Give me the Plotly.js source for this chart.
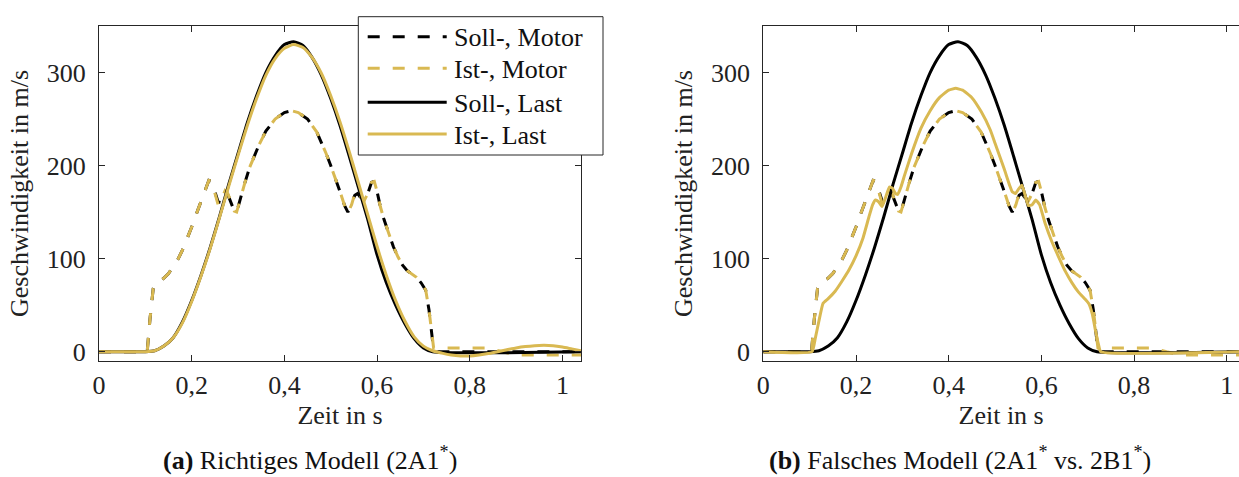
<!DOCTYPE html>
<html>
<head>
<meta charset="utf-8">
<script src="https://cdn.plot.ly/plotly-3.0.1.min.js"></script>
<style>html,body{margin:0;padding:0;background:#fff;}#chart{width:1239px;height:477px;}</style>
</head>
<body>
<div id="chart"></div>
<script>
// ---- data ----
var seriesNames = ['Soll-, Motor', 'Ist-, Motor', 'Soll-, Last', 'Ist-, Last'];
var panelCaptions = ['<b>(a)</b> Richtiges Modell (2A1<sup>*</sup>)', '<b>(b)</b> Falsches Modell (2A1<sup>*</sup> vs. 2B1<sup>*</sup>)'];
var xTickVals = [0, 0.2, 0.4, 0.6, 0.8, 1];
var xTickText = ['0', '0,2', '0,4', '0,6', '0,8', '1'];
var yTickVals = [0, 100, 200, 300];
var xTitle = 'Zeit in s';
var yTitle = 'Geschwindigkeit in m/s';

// Motor speed (both panels)
var tMotor = [0, 0.104, 0.110, 0.117, 0.125, 0.14, 0.15, 0.16, 0.17, 0.18, 0.19, 0.20, 0.21, 0.22, 0.23, 0.237, 0.243, 0.250, 0.257, 0.265, 0.272, 0.278, 0.285, 0.292, 0.297, 0.305, 0.315, 0.325, 0.335, 0.345, 0.36, 0.38, 0.40, 0.415, 0.43, 0.45, 0.47, 0.48, 0.49, 0.50, 0.51, 0.52, 0.53, 0.537, 0.545, 0.552, 0.558, 0.565, 0.572, 0.58, 0.588, 0.594, 0.60, 0.607, 0.615, 0.625, 0.635, 0.645, 0.655, 0.665, 0.675, 0.685, 0.695, 0.705, 0.712, 0.718, 0.722, 0.73, 0.84, 0.87, 0.90, 1.04];
var vIstMotor = [0, 0, 35, 68, 74, 79, 84, 91, 99, 109, 121, 134, 148, 162, 176, 184, 183, 170, 158, 165, 173, 170, 160, 151, 150, 165, 182, 198, 211, 222, 237, 250, 257, 259, 257, 250, 236, 225, 213, 200, 187, 172, 157, 149, 158, 170, 173, 166, 162, 170, 182, 183, 172, 156, 142, 127, 113, 102, 93, 87, 83, 80, 74, 66, 45, 20, 4, 4, 4, 0, -3.5, -3.5];
var vSollMotor = [0, 0, 35, 68, 74, 79, 84, 91, 99, 109, 121, 134, 148, 162, 176, 184, 183, 172, 161, 160, 168, 169, 160, 151, 150, 165, 182, 198, 211, 222, 237, 250, 257, 259, 257, 250, 236, 225, 213, 200, 187, 172, 157, 150, 160, 168, 170, 165, 164, 170, 182, 183, 172, 156, 142, 127, 113, 102, 93, 87, 83, 80, 74, 66, 45, 20, 2, 0, 0, 0, 0, 0];

// Load speed, reference (both panels)
var tSollLast = [0, 0.10, 0.12, 0.14, 0.16, 0.18, 0.20, 0.22, 0.24, 0.26, 0.28, 0.30, 0.32, 0.34, 0.36, 0.38, 0.40, 0.42, 0.44, 0.46, 0.48, 0.50, 0.52, 0.54, 0.56, 0.58, 0.60, 0.62, 0.64, 0.66, 0.68, 0.70, 0.72, 1.04];
var vSollLast = [0, 0, 1, 6, 15, 32, 55, 82, 112, 145, 180, 213, 246, 275, 300, 318, 330, 333, 329, 316, 297, 272, 243, 210, 176, 142, 104, 74, 50, 30, 14, 4, 0, 0];

// Load speed, measured - panel (a)
var tIstLastA = [0, 0.10, 0.12, 0.14, 0.16, 0.18, 0.20, 0.22, 0.24, 0.26, 0.28, 0.30, 0.32, 0.34, 0.36, 0.38, 0.40, 0.42, 0.44, 0.46, 0.48, 0.50, 0.52, 0.54, 0.56, 0.58, 0.60, 0.62, 0.64, 0.66, 0.68, 0.70, 0.72, 0.74, 0.76, 0.78, 0.80, 0.82, 0.84, 0.86, 0.88, 0.90, 0.92, 0.94, 0.96, 0.98, 1.00, 1.02, 1.04];
var vIstLastA = [0, 0, 1, 6, 15, 31, 54, 81, 111, 144, 178, 211, 243, 272, 297, 315, 326, 330, 327, 316, 299, 275, 247, 215, 181, 147, 113, 82, 55, 33, 16, 6, 1, -1.5, -3.5, -4.5, -4.5, -3.5, -2, 0, 2, 4, 5.5, 6.5, 7, 6.5, 5, 3, 1];

// Load speed, measured - panel (b)
var tIstLastB = [0, 0.105, 0.112, 0.120, 0.129, 0.14, 0.155, 0.17, 0.185, 0.20, 0.215, 0.228, 0.236, 0.242, 0.249, 0.256, 0.264, 0.272, 0.278, 0.285, 0.290, 0.297, 0.305, 0.32, 0.34, 0.36, 0.38, 0.40, 0.415, 0.43, 0.45, 0.47, 0.49, 0.50, 0.51, 0.52, 0.532, 0.537, 0.544, 0.551, 0.558, 0.565, 0.572, 0.580, 0.588, 0.596, 0.608, 0.622, 0.637, 0.652, 0.666, 0.68, 0.695, 0.703, 0.710, 0.717, 0.723, 0.728, 1.04];
var vIstLastB = [0, 0, 14, 33, 52, 57, 65, 76, 88, 103, 122, 145, 158, 163, 161, 156, 166, 177, 176, 170, 169, 177, 190, 213, 240, 259, 273, 281, 283, 281, 273, 258, 238, 224, 210, 196, 178, 172, 170, 175, 179, 168, 157, 158, 163, 158, 138, 119, 102, 86, 74, 64, 56, 51, 40, 22, 8, 0, 0];

// ---- styles ----
var GOLD = '#D9B952';
var BLACK = '#000000';
var FONT = 'Liberation Serif';
var DASH = '12px,13px';
var AXC = '#262626';

function tr(x, y, name, color, dash, xa, ya, shape, sm) {
  return {
    x: x, y: y, name: name, type: 'scatter', mode: 'lines',
    line: {color: color, width: 3, dash: dash, shape: shape, smoothing: sm},
    xaxis: xa, yaxis: ya, showlegend: false, hoverinfo: 'skip'
  };
}

var data = [
  tr(tMotor, vSollMotor, seriesNames[0], BLACK, DASH, 'x', 'y', 'linear', 0),
  tr(tMotor, vIstMotor, seriesNames[1], GOLD, DASH, 'x', 'y', 'linear', 0),
  tr(tSollLast, vSollLast, seriesNames[2], BLACK, 'solid', 'x', 'y', 'spline', 0.6),
  tr(tIstLastA, vIstLastA, seriesNames[3], GOLD, 'solid', 'x', 'y', 'spline', 0.6),
  tr(tMotor, vSollMotor, seriesNames[0], BLACK, DASH, 'x2', 'y2', 'linear', 0),
  tr(tMotor, vIstMotor, seriesNames[1], GOLD, DASH, 'x2', 'y2', 'linear', 0),
  tr(tSollLast, vSollLast, seriesNames[2], BLACK, 'solid', 'x2', 'y2', 'spline', 0.6),
  tr(tIstLastB, vIstLastB, seriesNames[3], GOLD, 'solid', 'x2', 'y2', 'spline', 0.4)
];

var axFont = {family: FONT, size: 26, color: '#222'};
var titleFont = {family: FONT, size: 26, color: '#222'};

function xax(domain, range, anchor) {
  return {
    domain: domain, range: range, anchor: anchor,
    tickmode: 'array', tickvals: xTickVals, ticktext: xTickText,
    ticks: 'inside', ticklen: 6, tickcolor: AXC, tickwidth: 1,
    showline: true, linecolor: AXC, linewidth: 1, mirror: 'ticks',
    showgrid: false, zeroline: false, tickfont: axFont, ticklabelstandoff: 1,
    title: {text: xTitle, font: titleFont, standoff: 6}
  };
}
function yax(anchor, mirror) {
  return {
    domain: [0, 1], range: [-10, 350], anchor: anchor,
    tickmode: 'array', tickvals: yTickVals,
    ticks: 'inside', ticklen: 6, tickcolor: AXC, tickwidth: 1,
    showline: true, linecolor: AXC, linewidth: 1, mirror: mirror,
    showgrid: false, zeroline: false, tickfont: axFont, ticklabelstandoff: 7,
    title: {text: yTitle, font: titleFont, standoff: 10}
  };
}

// legend geometry (pixels in the page) -> paper coords
function px(xp) { return (xp - 99) / 1140; }
function py(yp) { return (361 - yp) / 335; }
var legRows = [36.7, 68.3, 102.3, 134];
var legColors = [BLACK, GOLD, BLACK, GOLD];
var legDash = [DASH, DASH, 'solid', 'solid'];

var shapes = [{
  type: 'rect', xref: 'paper', yref: 'paper', layer: 'above',
  x0: px(358.3), x1: px(603), y0: py(155), y1: py(16.7),
  fillcolor: '#fff', line: {color: AXC, width: 1}
}];
var annotations = [];
for (var i = 0; i < seriesNames.length; i++) {
  shapes.push({
    type: 'line', xref: 'paper', yref: 'paper', layer: 'above',
    x0: px(367.7), x1: px(446.7), y0: py(legRows[i]), y1: py(legRows[i]),
    line: {color: legColors[i], width: 3, dash: legDash[i]}
  });
  annotations.push({
    xref: 'paper', yref: 'paper', x: px(452), y: py(legRows[i] + 1), text: seriesNames[i],
    showarrow: false, xanchor: 'left', yanchor: 'middle',
    font: {family: FONT, size: 26, color: '#111'}
  });
}
annotations.push(
  {xref: 'paper', yref: 'paper', x: px(310), y: py(476.5), text: panelCaptions[0], showarrow: false,
   font: {family: FONT, size: 26, color: '#111'}, xanchor: 'center', yanchor: 'bottom'},
  {xref: 'paper', yref: 'paper', x: px(960), y: py(476.5), text: panelCaptions[1], showarrow: false,
   font: {family: FONT, size: 26, color: '#111'}, xanchor: 'center', yanchor: 'bottom'}
);

var layout = {
  width: 1239, height: 477,
  margin: {l: 99, r: 0, t: 26, b: 116, pad: 0},
  paper_bgcolor: '#fff', plot_bgcolor: '#fff',
  font: {family: FONT, color: '#222'},
  xaxis: xax([0, 482 / 1140], [0, 1.04], 'y'),
  yaxis: yax('x', 'ticks'),
  xaxis2: xax([664.3 / 1140, 1], [0, 1.0263], 'y2'),
  yaxis2: yax('x2', false),
  showlegend: false,
  shapes: shapes,
  annotations: annotations
};

Plotly.newPlot('chart', data, layout, {staticPlot: true, displayModeBar: false});
</script>
</body>
</html>
